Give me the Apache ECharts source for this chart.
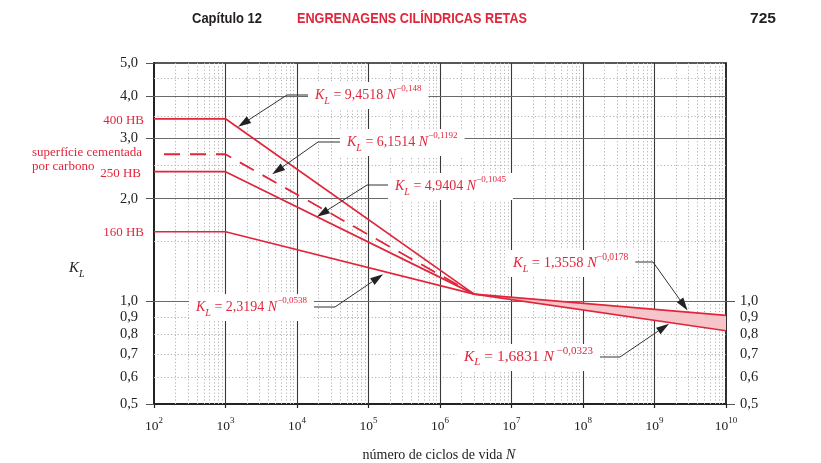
<!DOCTYPE html>
<html><head><meta charset="utf-8">
<script src="https://cdn.jsdelivr.net/npm/echarts@6/dist/echarts.min.js"></script>
<style>html,body{margin:0;padding:0;background:#fff}#c{width:821px;height:463px}</style>
</head><body><div id="c"></div>
<script>
// ---- data ----
const hb400 = [[1e2, 3.43], [1e3, 3.43], [3e6, 1.05]];
const carburized = [[1e2, 2.70], [1e3, 2.70], [3e6, 1.05]];
const hb250 = [[1e2, 2.40], [1e3, 2.40], [3e6, 1.05]];
const hb160 = [[1e2, 1.60], [1e3, 1.60], [3e6, 1.05]];
const bandUpper = [[3e6, 1.05], [1e10, 0.91]];
const bandLower = [[3e6, 1.05], [1e10, 0.82]];

const xTicks = [1e2, 1e3, 1e4, 1e5, 1e6, 1e7, 1e8, 1e9, 1e10];
const xMinorMult = [2, 3, 4, 5, 6, 7, 8, 9];
const yLabelsLeft = [0.5, 0.6, 0.7, 0.8, 0.9, 1.0, 2.0, 3.0, 4.0, 5.0];
const yLabelsRight = [0.5, 0.6, 0.7, 0.8, 0.9, 1.0];
const yTicks = [0.5, 1, 2, 3, 4, 5];
const yMajorGrid = [1, 2, 3, 4];
const yMinorGrid = [0.6, 0.7, 0.8, 0.9, 1.5, 2.5, 3.5, 4.5];

const formulaCoef = ['9,4518', '6,1514', '4,9404', '2,3194', '1,3558', '1,6831'];
const formulaExp = ['−0,148', '−0,1192', '−0,1045', '−0,0538', '−0,0178', '−0,0323'];
const arrowTips = [[1.5e3, 3.25], [4.5e3, 2.36], [1.9e4, 1.77], [1.6e5, 1.20], [2.9e9, 0.94], [1.6e9, 0.86]];

// ---- layout (pixels) ----
const annLayout = [
  { tx: 315, ty: 95, side: 'left', knee: [287, 95], main: 14, sup: 9, gap: '' },
  { tx: 347, ty: 142, side: 'left', knee: [318, 142], main: 14, sup: 9, gap: '' },
  { tx: 395, ty: 186, side: 'left', knee: [367, 185], main: 14, sup: 9, gap: '' },
  { tx: 196, ty: 307, side: 'right', knee: [335, 307], main: 14, sup: 9, gap: '' },
  { tx: 513, ty: 263, side: 'right', knee: [653, 262], main: 14.5, sup: 9.5, gap: '' },
  { tx: 464, ty: 357, side: 'right', knee: [620, 357], main: 15.5, sup: 11, gap: ' ' }
];

const RED = '#e1263c';
const SERIF = 'Liberation Serif, Times New Roman, serif';
const SANS = 'Liberation Sans, Arial, sans-serif';
const fmt = v => v.toFixed(1).replace('.', ',');

const xMinorGrid = [];
xTicks.slice(0, -1).forEach(d => xMinorMult.forEach(m => xMinorGrid.push(d * m)));

const chart = echarts.init(document.getElementById('c'), null, { renderer: 'canvas' });

const redLine = (name, data, dashed) => ({
  name, type: 'line', data, symbol: 'none', z: 5, silent: true,
  lineStyle: dashed ? { color: RED, width: 1.8, type: [16, 10], dashOffset: 16 } : { color: RED, width: 1.7 }
});

const dotted = { color: '#b4b4b4', width: 1, type: [1.2, 2.2] };

chart.setOption({
  animation: false,
  backgroundColor: '#fff',
  grid: { left: 154, top: 63, right: 95, bottom: 59, show: true, borderColor: '#222', borderWidth: 1.5, backgroundColor: 'transparent' },
  xAxis: {
    type: 'log', logBase: 10, min: 1e2, max: 1e10,
    axisLine: { show: true, lineStyle: { color: '#222', width: 2 } },
    axisTick: { show: true, length: 4, customValues: xTicks, lineStyle: { color: '#222', width: 1.2 } },
    axisLabel: {
      customValues: xTicks, margin: 12,
      formatter: v => '{b|10}{s|' + Math.round(Math.log10(v)) + '}',
      rich: {
        b: { fontFamily: SERIF, fontSize: 13.5, color: '#222', lineHeight: 20 },
        s: { fontFamily: SERIF, fontSize: 9, color: '#222', lineHeight: 11, verticalAlign: 'top' }
      }
    },
    splitLine: { show: false }, minorTick: { show: false }
  },
  yAxis: [{
    type: 'log', logBase: 10, min: 0.5, max: 5, position: 'left',
    axisLine: { show: true, lineStyle: { color: '#222', width: 2 } },
    axisTick: { show: true, length: 8, customValues: yTicks, lineStyle: { color: '#555', width: 1 } },
    axisLabel: { customValues: yLabelsLeft, margin: 16, formatter: fmt, fontFamily: SERIF, fontSize: 14.5, color: '#222' },
    splitLine: { show: false }
  }, {
    type: 'log', logBase: 10, min: 0.5, max: 5, position: 'right',
    axisLine: { show: true, lineStyle: { color: '#222', width: 1.5 } },
    axisTick: { show: true, length: 9, customValues: [0.5, 1], lineStyle: { color: '#555', width: 1 } },
    axisLabel: { customValues: yLabelsRight, margin: 14, formatter: fmt, fontFamily: SERIF, fontSize: 14.5, color: '#222' },
    splitLine: { show: false }
  }],
  series: [
    {
      name: 'grid', type: 'line', data: [[1e2, 0.5]], symbol: 'none', silent: true, lineStyle: { opacity: 0 }, z: 1,
      markLine: {
        silent: true, symbol: 'none', label: { show: false }, z: 1, animation: false,
        data: [
          ...xMinorGrid.map(v => ({ xAxis: v, lineStyle: dotted })),
          ...yMinorGrid.map(v => ({ yAxis: v, lineStyle: dotted })),
          ...xTicks.slice(1, -1).map(v => ({ xAxis: v, lineStyle: { color: '#3a3a3a', width: 1.1, type: 'solid' } })),
          ...yMajorGrid.map(v => ({ yAxis: v, lineStyle: { color: '#6a6a6a', width: 1.1, type: 'solid' } }))
        ]
      }
    },
    {
      name: 'band', type: 'custom', data: [[3e6, 1]], z: 4, silent: true,
      renderItem: (params, api) => {
        const pts = bandUpper.map(p => api.coord(p)).concat(bandLower.slice().reverse().map(p => api.coord(p)));
        return { type: 'polygon', shape: { points: pts }, style: { fill: '#f6c5c9' } };
      }
    },
    redLine('400 HB', hb400),
    redLine('superfície cementada por carbono', carburized, true),
    redLine('250 HB', hb250),
    redLine('160 HB', hb160),
    redLine('KL = 1,3558 N^-0,0178', bandUpper),
    redLine('KL = 1,6831 N^-0,0323', bandLower)
  ]
});

// ---- annotations and texts ----
const mctx = document.createElement('canvas').getContext('2d');
function tw(text, font) { mctx.font = font; return mctx.measureText(text).width; }

const g = [];
annLayout.forEach((a, i) => {
  const m = a.main, s = a.sup, sb = Math.round(m * 0.7);
  const rich = {
    k: { fontFamily: SERIF, fontStyle: 'italic', fontSize: m, fill: RED, lineHeight: 22 },
    sub: { fontFamily: SERIF, fontStyle: 'italic', fontSize: sb, fill: RED, lineHeight: 13, verticalAlign: 'bottom' },
    t: { fontFamily: SERIF, fontSize: m, fill: RED, lineHeight: 22 },
    sup: { fontFamily: SERIF, fontSize: s, fill: RED, lineHeight: 12, verticalAlign: 'top' }
  };
  const mid = ' = ' + formulaCoef[i] + ' ';
  const expT = a.gap + formulaExp[i];
  const w = tw('K', 'italic ' + m + 'px ' + SERIF) + tw('L', 'italic ' + sb + 'px ' + SERIF) + tw(mid, m + 'px ' + SERIF)
          + tw('N', 'italic ' + m + 'px ' + SERIF) + tw(expT, s + 'px ' + SERIF);
  const bx0 = a.tx - 7, bw = w + 14;
  g.push({ type: 'rect', z: 20, shape: { x: bx0, y: a.ty - 13, width: bw, height: 27 }, style: { fill: '#fff' }, silent: true });
  g.push({
    type: 'text', z: 21, x: a.tx, y: a.ty, silent: true,
    style: { text: '{k|K}{sub|L}{t|' + mid + '}{k|N}{sup|' + expT + '}', rich, textAlign: 'left', textVerticalAlign: 'middle' }
  });
  const start = [a.side === 'left' ? bx0 : bx0 + bw, a.knee[1]];
  const tip = chart.convertToPixel({ seriesIndex: 2 }, arrowTips[i]);
  const dx = tip[0] - a.knee[0], dy = tip[1] - a.knee[1];
  const len = Math.hypot(dx, dy), ux = dx / len, uy = dy / len;
  const L = 13, W = 4;
  const bx = tip[0] - ux * L, by = tip[1] - uy * L;
  g.push({ type: 'polyline', z: 21, silent: true, shape: { points: [start, a.knee, [bx, by]] }, style: { stroke: '#333', lineWidth: 1, fill: null } });
  g.push({ type: 'polygon', z: 21, silent: true, shape: { points: [tip, [bx - uy * W, by + ux * W], [bx + uy * W, by - ux * W]] }, style: { fill: '#222' } });
});

const redLabel = (text, x, y, align) => ({ type: 'text', z: 21, x, y, silent: true, style: { text, fill: RED, font: '13px ' + SERIF, textAlign: align, textVerticalAlign: 'middle' } });
g.push(redLabel('400 HB', 144, 121, 'right'));
g.push(redLabel('superfície cementada', 32, 153, 'left'));
g.push(redLabel('por carbono', 32, 167, 'left'));
g.push(redLabel('250 HB', 141, 174, 'right'));
g.push(redLabel('160 HB', 144, 233, 'right'));

// axis names
g.push({ type: 'text', z: 21, x: 69, y: 268, silent: true, style: {
  text: '{k|K}{sub|L}', textAlign: 'left', textVerticalAlign: 'middle',
  rich: { k: { fontFamily: SERIF, fontStyle: 'italic', fontSize: 15, fill: '#222', lineHeight: 22 }, sub: { fontFamily: SERIF, fontStyle: 'italic', fontSize: 10, fill: '#222', lineHeight: 13, verticalAlign: 'bottom' } } } });
g.push({ type: 'text', z: 21, x: 439, y: 455, silent: true, style: {
  text: '{t|número de ciclos de vida }{i|N}', textAlign: 'center', textVerticalAlign: 'middle',
  rich: { t: { fontFamily: SERIF, fontSize: 14, fill: '#222' }, i: { fontFamily: SERIF, fontStyle: 'italic', fontSize: 14, fill: '#222' } } } });

// header
const hFont = 'bold 15px ' + SANS;
const fit = (text, target) => target / tw(text, hFont);
g.push({ type: 'text', z: 21, x: 192, y: 19, scaleX: fit('Capítulo 12', 70), silent: true, style: { text: 'Capítulo 12', font: hFont, fill: '#231f20', textAlign: 'left', textVerticalAlign: 'middle' } });
g.push({ type: 'text', z: 21, x: 297, y: 19, scaleX: fit('ENGRENAGENS CILÍNDRICAS RETAS', 230), silent: true, style: { text: 'ENGRENAGENS CILÍNDRICAS RETAS', font: hFont, fill: '#e0263c', textAlign: 'left', textVerticalAlign: 'middle' } });
g.push({ type: 'text', z: 21, x: 776, y: 19, scaleX: fit('725', 26), silent: true, style: { text: '725', font: hFont, fill: '#231f20', textAlign: 'right', textVerticalAlign: 'middle' } });

chart.setOption({ graphic: g });
</script></body></html>
